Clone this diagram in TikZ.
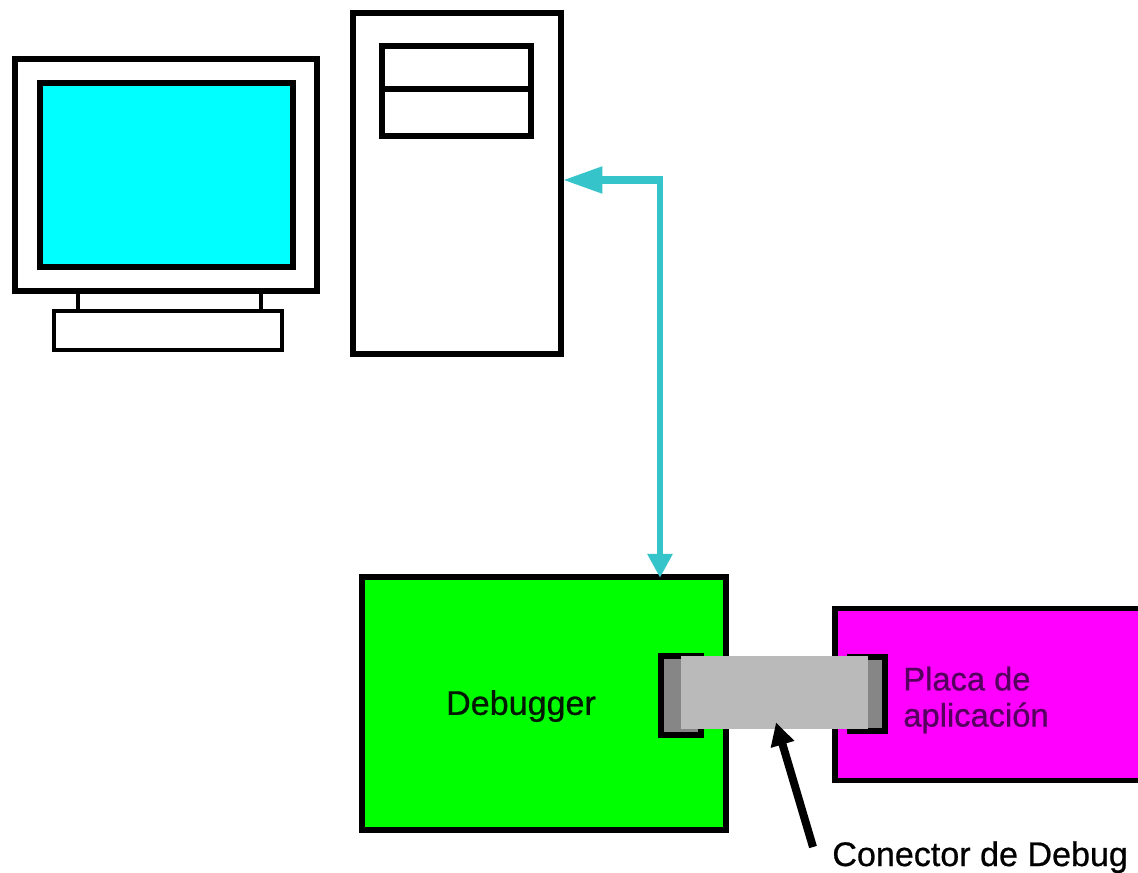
\documentclass[tikz,border=0pt]{standalone}
\usepackage{fontspec}
\setmainfont{Liberation Sans}
\newfontfamily\lblfont{Liberation Sans}[RawFeature={embolden=0.7}]
\usetikzlibrary{arrows.meta}
\definecolor{linkcyan}{RGB}{52,196,202}
\definecolor{screencyan}{RGB}{0,255,255}
\definecolor{boardgreen}{RGB}{0,255,0}
\definecolor{boardpink}{RGB}{255,0,255}
\definecolor{pinktext}{RGB}{85,0,95}
\definecolor{plugdark}{RGB}{134,134,134}
\definecolor{pluglight}{RGB}{186,186,186}
\begin{document}
\begin{tikzpicture}[x=0.02cm, y=-0.02cm, every node/.style={font=\lblfont\fontsize{18.6}{20.6}\selectfont},
  bx/.style={draw=black,line width=0.12cm,fill=white,inner sep=0pt},
  lbl/.style={inner sep=0pt,align=left},
  link/.style={linkcyan}]
\clip (0,0) rectangle (1138,872);
\node[bx,minimum width=6.04cm,minimum height=4.64cm] (monitor) at (166,175) {};
\node[bx,fill=screencyan,minimum width=5.06cm,minimum height=3.68cm] (screen) at (166.5,175) {};
\node[bx,line width=0.09cm,minimum width=4.56cm,minimum height=0.78cm] (keyboard) at (168,330.5) {};
\coordinate (legl) at (78,300);
\coordinate (legr) at (261,300);
\draw[line width=0.09cm] (legl |- monitor.south) -- (legl |- keyboard.north);
\draw[line width=0.09cm] (legr |- monitor.south) -- (legr |- keyboard.north);
\node[bx,minimum width=4.18cm,minimum height=6.84cm] (tower) at (457,183.5) {};
\node[bx,minimum width=3.0cm,minimum height=0.87cm] (driveup) at (456.5,67.25) {};
\node[bx,minimum width=3.0cm,minimum height=0.95cm] (drivedown) at (456.5,112.75) {};
\node[bx,line width=0.13cm,fill=boardgreen,minimum width=7.28cm,minimum height=5.06cm] (debugger) at (544,703.5) {};
\node[bx,line width=0.11cm,fill=boardpink,minimum width=6.2cm,minimum height=3.44cm] (placa) at (990,694.5) {};
\node[bx,fill=plugdark,minimum width=0.8cm,minimum height=1.58cm] (plugl) at (680.5,695) {};
\node[bx,fill=plugdark,minimum width=0.7cm,minimum height=1.48cm] (plugr) at (867,693.5) {};
\node[fill=pluglight,inner sep=0pt,minimum width=3.74cm,minimum height=1.46cm] (cable) at (774.5,692.5) {};
\node[lbl,text=black!90!boardgreen] (debugtxt) at (521,706) {\fontsize{19.4}{22}\selectfont Debugger};
\node[lbl,text=pinktext,anchor=west] (placatxt) at (903,700) {Placa de\\aplicación};
\node[lbl,anchor=base west] (conectxt) at (832,866) {\fontsize{19.4}{22}\selectfont Conector de Debug};
\coordinate (linkbend) at (660,180);
\coordinate (conectail) at (813,847);
\draw[link,line width=0.16cm,-{Triangle[length=0.8cm,width=0.5cm]},shorten >=-0.04cm] (linkbend) -- (tower.east |- linkbend);
\draw[link,line width=0.12cm,-{Triangle[length=0.48cm,width=0.48cm]},shorten >=-0.08cm] ([yshift=0.08cm]linkbend) -- (linkbend |- debugger.north);
\draw[line width=0.16cm,-{Triangle[length=0.46cm,width=0.46cm]}] (conectail) -- ([xshift=0.03cm,yshift=0.14cm]cable.south);
\end{tikzpicture}
\end{document}
